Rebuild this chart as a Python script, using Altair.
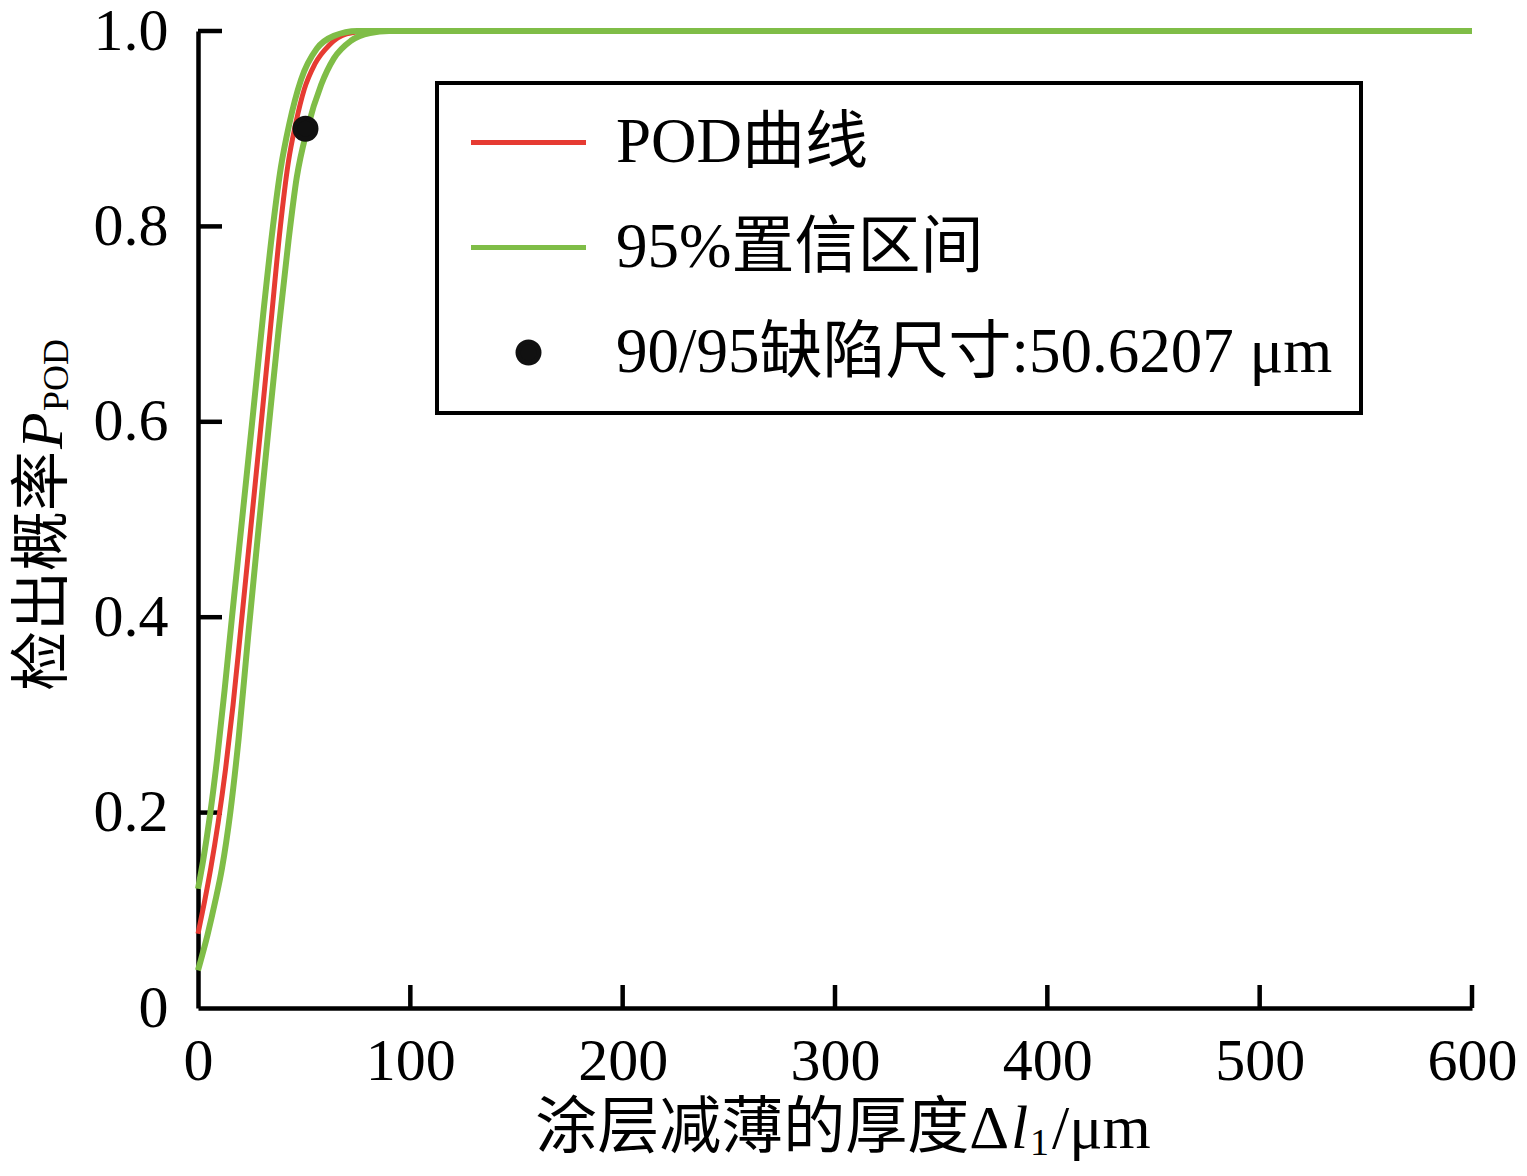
import altair as alt
import pandas as pd

FONT = "Liberation Serif, Noto Sans CJK SC"

# ---- data ----
series_names = ["POD曲线", "95%置信区间", "90/95缺陷尺寸:50.6207 μm"]
series_colors = ["#e63b32", "#7fbd47", "#111111"]
series_shapes = ["M-2,0L2,0", "M-2,0L2,0", "circle"]
series_sizes = [3306, 3306, 441]

pod_x = [0, 3, 6, 9.5, 13, 16.5, 20, 24.8, 29.6, 34.3, 38.8, 42.5, 46, 50, 55, 62, 70, 80, 100, 600]
pod_y = [0.076, 0.108, 0.143, 0.19, 0.245, 0.31, 0.385, 0.49, 0.595, 0.7, 0.8, 0.865, 0.905, 0.94,
         0.966, 0.986, 0.997, 1.0, 1.0, 1.0]

upper_x = [0, 2.5, 5.5, 9, 12.5, 16, 21, 26, 30.7, 35.3, 39, 43, 48.5, 56, 64, 75, 100, 600]
upper_y = [0.122, 0.152, 0.195, 0.255, 0.325, 0.4, 0.505, 0.61, 0.71, 0.8, 0.86, 0.905, 0.95,
           0.982, 0.995, 1.0, 1.0, 1.0]

lower_x = [0, 4.5, 8, 11.3, 15.2, 19.1, 23.8, 28.5, 33.3, 38, 42.6, 46.5, 51.5, 58, 64, 72, 81, 90, 100, 600]
lower_y = [0.0385, 0.075, 0.108, 0.143, 0.2, 0.275, 0.385, 0.49, 0.595, 0.695, 0.785, 0.85, 0.9,
           0.945, 0.972, 0.99, 0.998, 1.0, 1.0, 1.0]

dot_x = [50.6207]
dot_y = [0.9]

x_ticks = [0, 100, 200, 300, 400, 500, 600]
y_ticks = [0, 0.2, 0.4, 0.6, 0.8, 1.0]

x_title_main = "涂层减薄的厚度Δ"
x_title_var = "l"
x_title_sub = "1"
x_title_unit = "/μm"
y_title_main = "检出概率"
y_title_var = "P"
y_title_sub = "POD"

# ---- layout ----
W, H = 1274, 977

red_df = pd.DataFrame({"x": pod_x, "y": pod_y, "series": series_names[0]})
green_df = pd.concat([
    pd.DataFrame({"x": upper_x, "y": upper_y, "series": series_names[1], "curve": "upper"}),
    pd.DataFrame({"x": lower_x, "y": lower_y, "series": series_names[1], "curve": "lower"}),
])
dot_df = pd.DataFrame({"x": dot_x, "y": dot_y, "series": series_names[2]})
xt_df = pd.DataFrame({"t": x_ticks[1:]})
yt_df = pd.DataFrame({"t": y_ticks[1:]})

xs = alt.Scale(domain=[0, 600], nice=False, zero=False)
ys = alt.Scale(domain=[0, 1], nice=False, zero=False)

x_axis = alt.Axis(values=x_ticks, ticks=False, tickSize=0, grid=False, domainColor="black",
                  domainWidth=4.5, labelFont=FONT, labelFontSize=60, labelColor="black",
                  labelPadding=24, labelFlush=False, labelOverlap=False, title=None)
y_axis = alt.Axis(values=y_ticks, ticks=False, tickSize=0, grid=False, domainColor="black",
                  domainWidth=4.5, labelFont=FONT, labelFontSize=60, labelColor="black",
                  labelPadding=30, labelFlush=False, labelOverlap=False, title=None,
                  labelExpr="datum.value == 0 ? '0' : format(datum.value, '.1f')")

legend = alt.Legend(title=None, orient="none", legendX=239, legendY=52, direction="vertical",
                    padding=28, rowPadding=41, symbolOffset=32, labelOffset=56,
                    labelFont=FONT, labelFontSize=63, labelColor="black", labelLimit=2000,
                    symbolStrokeWidth=5, strokeColor="black", fillColor="white")

color_enc = alt.Color("series:N", scale=alt.Scale(domain=series_names, range=series_colors), legend=legend)
shape_enc = alt.Shape("series:N", scale=alt.Scale(domain=series_names, range=series_shapes), legend=legend)
size_enc = alt.Size("series:N", scale=alt.Scale(type="ordinal", domain=series_names, range=series_sizes), legend=legend)

X = alt.X("x:Q", scale=xs, axis=x_axis)
Y = alt.Y("y:Q", scale=ys, axis=y_axis)

xtick = alt.Chart(xt_df).mark_rule(color="black", strokeWidth=4.5).encode(
    x=alt.X("t:Q", scale=xs, axis=x_axis), y=alt.value(H), y2=alt.value(H - 23))
ytick = alt.Chart(yt_df).mark_rule(color="black", strokeWidth=4.5).encode(
    y=alt.Y("t:Q", scale=ys, axis=y_axis), x=alt.value(0), x2=alt.value(24))

red = alt.Chart(red_df).mark_line(strokeWidth=5, interpolate="monotone").encode(x=X, y=Y, color=color_enc)
green = alt.Chart(green_df).mark_line(strokeWidth=6, interpolate="monotone").encode(
    x=X, y=Y, color=color_enc, detail="curve:N")
dot = alt.Chart(dot_df).mark_point(filled=False, fill="#111111", strokeWidth=5, opacity=1).encode(
    x=X, y=Y, color=color_enc, shape=shape_enc, size=size_enc)


def label(txt, px, py, size=60, align="left", angle=0, style="normal"):
    props = dict(font=FONT, fontSize=size, align=align, baseline="alphabetic",
                 color="black", fontStyle=style)
    if angle:
        props["angle"] = angle
    return alt.Chart(pd.DataFrame({"t": [txt]})).mark_text(**props).encode(
        text="t:N", x=alt.value(px), y=alt.value(py))


titles = [
    label(x_title_main, 811, 1117, size=62, align="right"),
    label(x_title_var, 813, 1117, size=62, style="italic"),
    label(x_title_sub, 832, 1124, size=38),
    label(x_title_unit, 854, 1117, size=62),
    label(y_title_main, -136, 420, align="right", angle=270),
    label(y_title_var, -136, 418, align="left", angle=270, style="italic"),
    label(y_title_sub, -130, 380, size=36, align="left", angle=270),
]

chart = alt.layer(xtick, ytick, red, green, dot, *titles).properties(
    width=W, height=H,
    padding={"left": 190, "top": 23, "right": 46, "bottom": 158},
    autosize=alt.AutoSizeParams(type="none"),
    background="white",
).configure_view(strokeWidth=0).configure_legend(strokeWidth=4)

chart.save("out.html", embed_options={"renderer": "svg", "actions": False})
